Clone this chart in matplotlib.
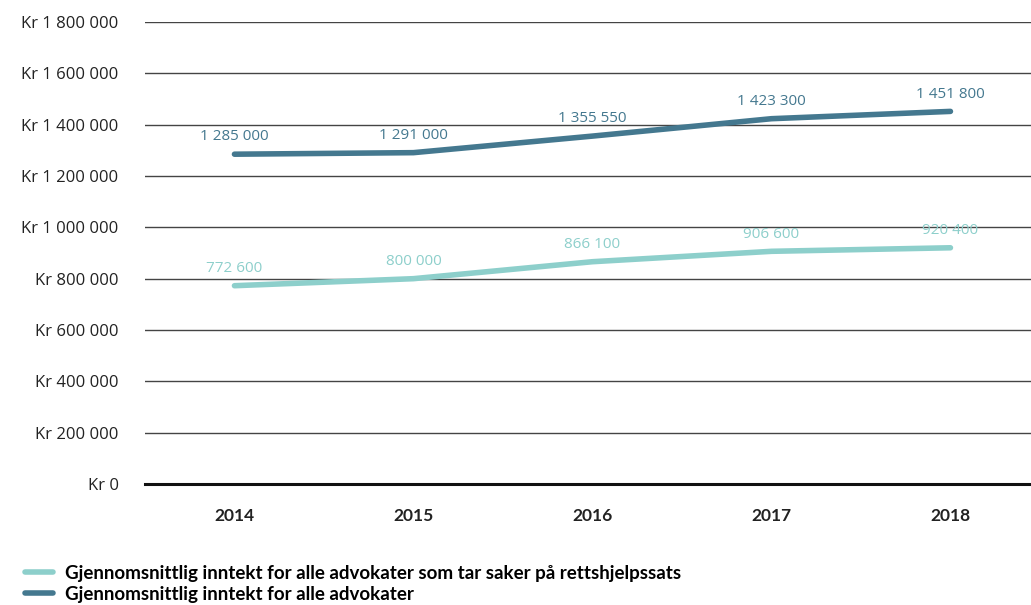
import matplotlib.pyplot as plt
from matplotlib.lines import Line2D

# data
years = ["2014", "2015", "2016", "2017", "2018"]
alle = [1285000, 1291000, 1355550, 1423300, 1451800]
rettshjelp = [772600, 800000, 866100, 906600, 920400]
yticks = [0, 200000, 400000, 600000, 800000, 1000000, 1200000, 1400000, 1600000, 1800000]

dark = "#44788f"
light = "#8dcfcb"
cond = ["Lato", "DejaVu Sans"]


def nok(v):
    return f"{v:,}".replace(",", " ")


plt.rcParams["font.family"] = ["Open Sans", "DejaVu Sans"]

fig = plt.figure(figsize=(10.31, 6.05), dpi=100)
ax = fig.add_axes([0.1406, 0.2, 0.8594, 0.7636])

x = list(range(len(years)))
ax.plot(x, rettshjelp, color=light, lw=4, solid_capstyle="round", zorder=3)
ax.plot(x, alle, color=dark, lw=4, solid_capstyle="round", zorder=3)

for xi, v in zip(x, alle):
    ax.annotate(nok(v), (xi, v), xytext=(0, 7), textcoords="offset points",
                ha="center", va="bottom", color=dark, fontsize=11)
for xi, v in zip(x, rettshjelp):
    ax.annotate(nok(v), (xi, v), xytext=(0, 7), textcoords="offset points",
                ha="center", va="bottom", color=light, fontsize=11)

ax.set_xlim(-0.5, 4.45)
ax.set_ylim(0, 1800000)
ax.set_yticks(yticks)
ax.set_yticklabels(["Kr " + nok(v) for v in yticks], fontsize=12, color="#222222")
ax.set_xticks(x)
ax.set_xticklabels(years, fontsize=12.5, fontweight="bold", family=cond, color="#222222")
ax.tick_params(axis="y", length=0, pad=19)
ax.tick_params(axis="x", length=0, pad=17)

for v in yticks[1:]:
    ax.axhline(v, color="#444444", lw=1, zorder=1)
ax.axhline(0, color="#111111", lw=2.2, zorder=2, clip_on=False)

for s in ax.spines.values():
    s.set_visible(False)

handles = [Line2D([], [], color=light, lw=4, solid_capstyle="round"),
           Line2D([], [], color=dark, lw=4, solid_capstyle="round")]
labels = ["Gjennomsnittlig inntekt for alle advokater som tar saker på rettshjelpssats",
          "Gjennomsnittlig inntekt for alle advokater"]
fig.legend(handles, labels, loc="lower left", bbox_to_anchor=(0.008, -0.024),
           frameon=False, handlelength=1.5, handletextpad=0.65, labelspacing=0.2,
           prop={"family": cond, "weight": "bold", "size": 13.5})

fig.savefig("out.png", dpi=100)
